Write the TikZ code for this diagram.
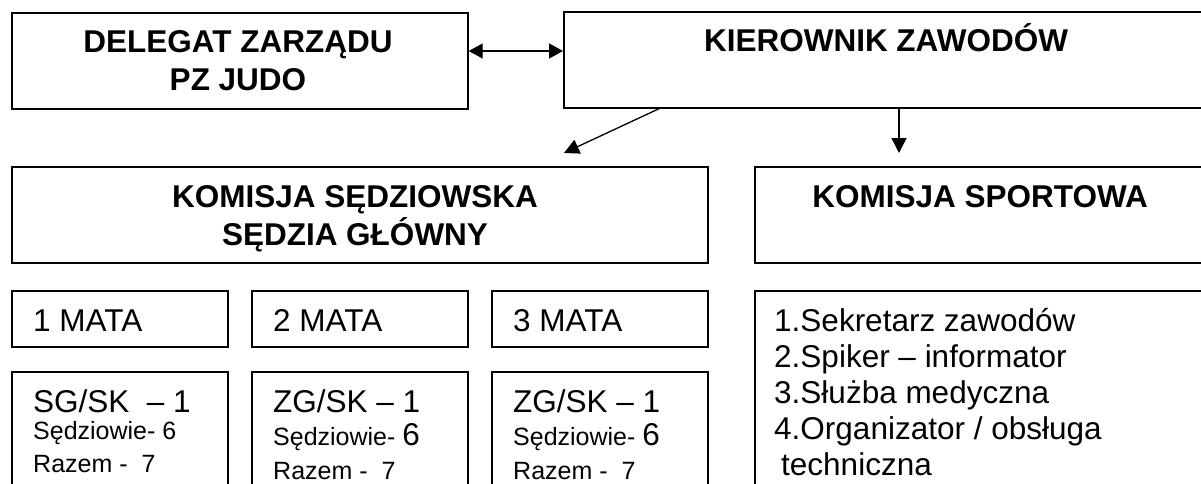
\documentclass[tikz,border=0pt]{standalone}
\usepackage{fontspec}
\setmainfont{Liberation Sans}
\usetikzlibrary{arrows.meta}
\begin{document}
\begin{tikzpicture}[x=1pt,y=-1pt,
  box/.style={draw,line width=1.7pt,anchor=north west,inner sep=0pt},
  big/.style={font=\fontsize{31.5}{36}\selectfont,inner sep=0pt},
  hbig/.style={font=\fontsize{31.5}{36}\selectfont\bfseries,inner sep=0pt,anchor=base},
  small/.style={font=\fontsize{25}{30}\selectfont,inner sep=0pt,anchor=base west},
  conn/.style={line width=1.3pt,-{Triangle[length=15pt,width=15pt]}},
  dconn/.style={line width=1.3pt,{Triangle[length=14pt,width=15pt]}-{Triangle[length=14pt,width=15pt]}}]
\useasboundingbox (0,0) rectangle (1201,484);
\fill[white] (0,0) rectangle (1201,484);
\clip (0,0) rectangle (1201,484);
% boxes
\node[box,minimum width=456pt,minimum height=96pt] (del) at (11,12) {};
\node[box,minimum width=645pt,minimum height=96pt] (kier) at (563,11) {};
\node[box,minimum width=696pt,minimum height=96pt] (sedz) at (11,166) {};
\node[box,minimum width=452pt,minimum height=96pt] (sport) at (754,166) {};
\node[box,minimum width=216pt,minimum height=56pt] (m1) at (11,290) {};
\node[box,minimum width=216pt,minimum height=56pt] (m2) at (251,290) {};
\node[box,minimum width=216pt,minimum height=56pt] (m3) at (491,290) {};
\node[box,minimum width=216pt,minimum height=140pt] (s1) at (11,371) {};
\node[box,minimum width=216pt,minimum height=140pt] (s2) at (251,371) {};
\node[box,minimum width=216pt,minimum height=140pt] (s3) at (491,371) {};
\node[box,minimum width=452pt,minimum height=220pt] (lst) at (754,290) {};
% headings
\node[hbig] (tdel1) at (238,53) {DELEGAT ZARZĄDU};
\node[hbig] (tdel2) at (238,91) {PZ JUDO};
\node[hbig] (tkier) at (886,52) {KIEROWNIK ZAWODÓW};
\node[hbig] (tsedz1) at (355,207) {KOMISJA SĘDZIOWSKA};
\node[hbig] (tsedz2) at (355,245) {SĘDZIA GŁÓWNY};
\node[hbig] (tsport) at (980,207) {KOMISJA SPORTOWA};
% mats
\node[big,anchor=base west] (tm1) at (33,331) {1 MATA};
\node[big,anchor=base west] (tm2) at (273,331) {2 MATA};
\node[big,anchor=base west] (tm3) at (513,331) {3 MATA};
% mat details
\node[big,anchor=base west] (a1) at (33,412) {SG/SK\ \ – 1};
\node[small] (b1) at (33,439) {Sędziowie- 6};
\node[small] (c1) at (33,472) {Razem -\ \ 7};
\node[big,anchor=base west] (a2) at (273,412) {ZG/SK – 1};
\node[small] (b2) at (273,445) {Sędziowie- {\fontsize{31.5}{36}\selectfont 6}};
\node[small] (c2) at (273,479) {Razem -\ \ 7};
\node[big,anchor=base west] (a3) at (513,412) {ZG/SK – 1};
\node[small] (b3) at (513,445) {Sędziowie- {\fontsize{31.5}{36}\selectfont 6}};
\node[small] (c3) at (513,479) {Razem -\ \ 7};
% list
\node[big,anchor=base west] (l1) at (774,331) {1.Sekretarz zawodów};
\node[big,anchor=base west] (l2) at (774,367) {2.Spiker – informator};
\node[big,anchor=base west] (l3) at (774,403) {3.Służba medyczna};
\node[big,anchor=base west] (l4) at (774,439) {4.Organizator / obsługa};
\node[big,anchor=base west] (l5) at (781,475) {techniczna};
% connectors
\coordinate (ya) at (0,51);
\coordinate (dx) at (659,0);
\coordinate (e1) at (564,153);
\coordinate (e2) at (899,153);
\draw[dconn] (del.east |- ya) -- (kier.west |- ya);
\draw[conn] (kier.south -| dx) -- (e1);
\draw[conn] (kier.south -| e2) -- (e2);
\end{tikzpicture}
\end{document}
